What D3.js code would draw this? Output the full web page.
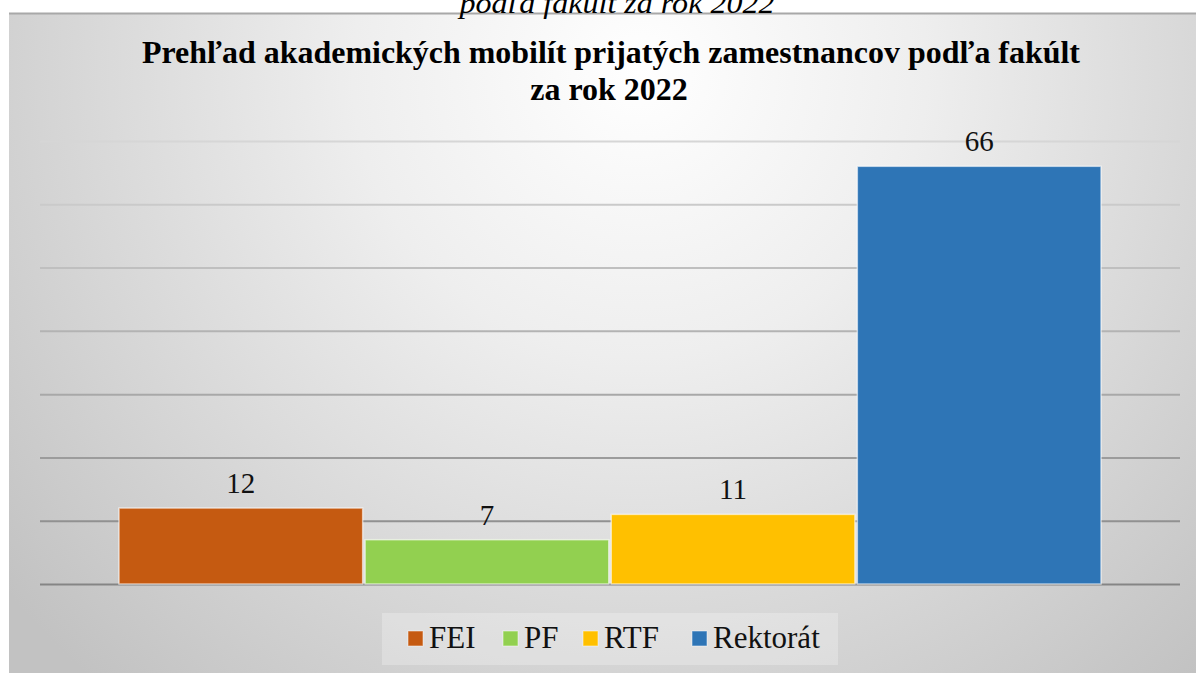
<!DOCTYPE html>
<html>
<head>
<meta charset="utf-8">
<script src="https://cdn.jsdelivr.net/npm/d3@7"></script>
</head>
<body style="margin:0">
<svg id="s" width="1196" height="673"></svg>
<script>
const categories = ["FEI", "PF", "RTF", "Rektorát"];
const values = [12, 7, 11, 66];
const colors = ["#C55A11", "#92D050", "#FFC000", "#2E75B6"];
const yTicks = [0, 10, 20, 30, 40, 50, 60, 70];
const captionText = "podľa fakúlt za rok 2022";
const titleLines = ["Prehľad akademických mobilít prijatých zamestnancov podľa fakúlt", "za rok 2022"];

const FONT = '"Liberation Serif"';
const W = 1196, H = 673;
const svg = d3.select("#s");

// background gradient
const defs = svg.append("defs");
const rg = defs.append("radialGradient").attr("id", "bg")
  .attr("gradientUnits", "userSpaceOnUse")
  .attr("cx", 640).attr("cy", 70).attr("r", 820);
rg.append("stop").attr("offset", "0").attr("stop-color", "#ffffff");
rg.append("stop").attr("offset", "0.35").attr("stop-color", "#eeeeee");
rg.append("stop").attr("offset", "1").attr("stop-color", "#c2c2c2");

// chart box
svg.append("rect").attr("x", 9).attr("y", 13).attr("width", W - 9).attr("height", H - 13)
  .attr("fill", "url(#bg)");
svg.append("line").attr("x1", 9).attr("x2", W).attr("y1", 13.5).attr("y2", 13.5)
  .attr("stroke", "#a8a8a8").attr("stroke-width", 2);

// caption (partly above the visible area, as in the source page)
svg.append("text")
  .attr("x", 617).attr("y", 13)
  .attr("text-anchor", "middle")
  .attr("font-size", 30)
  .style("font-family", FONT).style("font-style", "italic")
  .attr("fill", "#000")
  .attr("textLength", 315).attr("lengthAdjust", "spacingAndGlyphs")
  .text(captionText);

// title
svg.append("text")
  .attr("x", 611).attr("y", 63)
  .attr("text-anchor", "middle")
  .attr("font-size", 32)
  .style("font-family", FONT).style("font-weight", "bold")
  .attr("fill", "#000")
  .attr("textLength", 938).attr("lengthAdjust", "spacingAndGlyphs")
  .text(titleLines[0]);
svg.append("text")
  .attr("x", 609).attr("y", 100)
  .attr("text-anchor", "middle")
  .attr("font-size", 32)
  .style("font-family", FONT).style("font-weight", "bold")
  .attr("fill", "#000")
  .text(titleLines[1]);

// scales
const plotLeft = 40, plotRight = 1180;
const y = d3.scaleLinear().domain([0, 70]).range([584, 141]);
const x = d3.scaleBand().domain(categories).range([119, 1101]).paddingInner(0.01).paddingOuter(0);

// gridlines
const gridColor = d3.scaleLinear().domain([0, 70]).range(["#858585", "#d6d6d6"]);
const gAxis = svg.append("g").attr("transform", `translate(${plotLeft},0)`)
  .call(d3.axisLeft(y).tickValues(yTicks).tickSize(-(plotRight - plotLeft)).tickFormat(""));
gAxis.select(".domain").remove();
gAxis.selectAll(".tick line")
  .attr("stroke", d => gridColor(d))
  .attr("stroke-width", 2);

// bars
svg.append("g").selectAll("rect").data(categories).join("rect")
  .attr("x", d => x(d))
  .attr("y", (d, i) => y(values[i]))
  .attr("width", x.bandwidth())
  .attr("height", (d, i) => y(0) - y(values[i]))
  .attr("fill", (d, i) => colors[i])
  .attr("stroke", "#ffffff").attr("stroke-opacity", 0.6).attr("stroke-width", 1.5);

// value labels
svg.append("g").selectAll("text").data(categories).join("text")
  .attr("x", d => x(d) + x.bandwidth() / 2)
  .attr("y", (d, i) => y(values[i]) - 15)
  .attr("text-anchor", "middle")
  .attr("font-size", 29)
  .style("font-family", FONT)
  .attr("fill", "#111")
  .text((d, i) => values[i]);

// legend
svg.append("rect").attr("x", 382).attr("y", 613).attr("width", 456).attr("height", 52)
  .attr("fill", "#ffffff").attr("fill-opacity", 0.25);
const legendX = [408, 503, 583, 692];
const lg = svg.append("g").selectAll("g").data(categories).join("g")
  .attr("transform", (d, i) => `translate(${legendX[i]},631)`);
lg.append("rect").attr("width", 15).attr("height", 15)
  .attr("fill", (d, i) => colors[i])
  .attr("stroke", "#ffffff").attr("stroke-opacity", 0.5).attr("stroke-width", 1);
lg.append("text").attr("x", 21).attr("y", 17)
  .attr("font-size", 31)
  .style("font-family", FONT)
  .attr("fill", "#111")
  .text(d => d);
</script>
</body>
</html>
